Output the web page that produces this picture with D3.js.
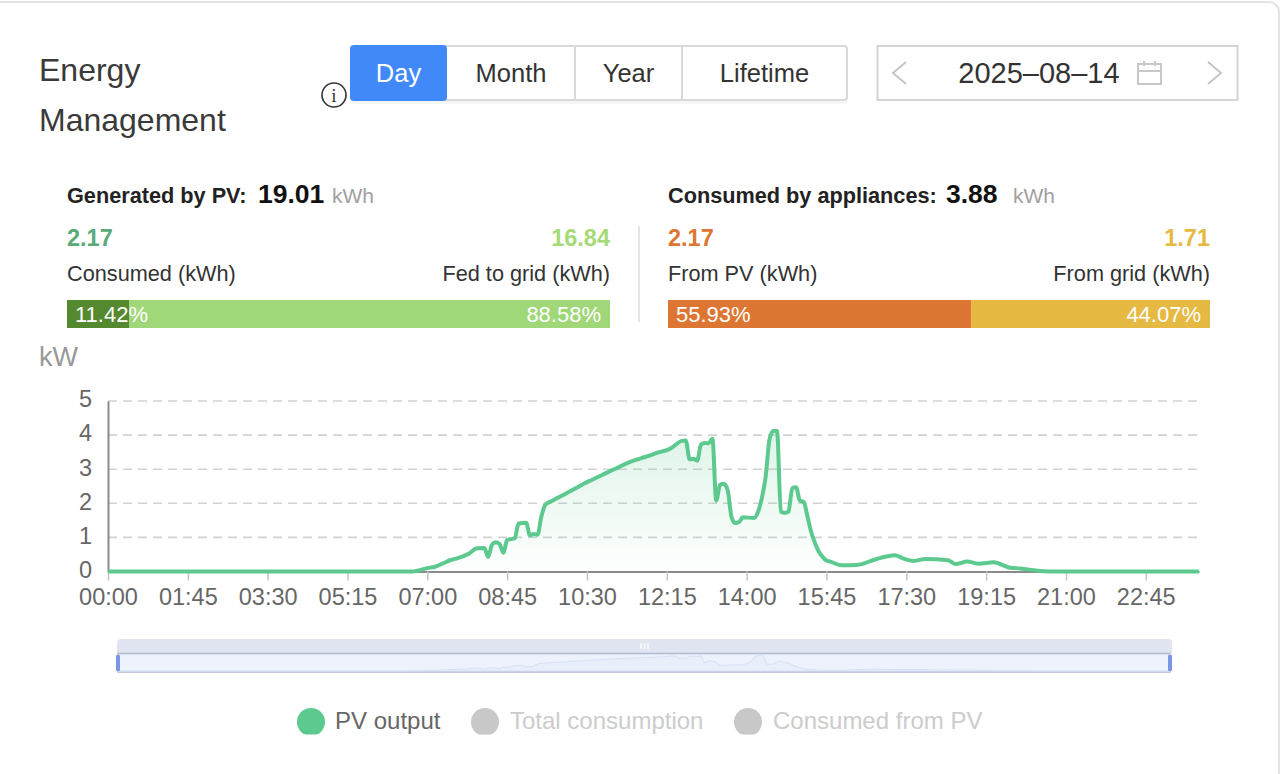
<!DOCTYPE html>
<html>
<head>
<meta charset="utf-8">
<title>Energy Management</title>
<script src="https://cdn.jsdelivr.net/npm/d3@7"></script>
<style>
  html, body { margin: 0; padding: 0; background: #fff; overflow: hidden; }
  svg { display: block; }
  text { font-family: "Liberation Sans", Arial, sans-serif; }
</style>
</head>
<body>
<div id="chart"></div>
<script>
// PV output samples (kW)
var sampleTimes = ["00:00","06:40","07:00","07:10","07:20","07:30","07:40","07:55","08:05","08:15","08:20","08:25","08:30","08:35","08:40","08:45","08:50","08:55","09:00","09:10","09:15","09:20","09:25","09:30","09:35","09:45","09:55","10:00","10:15","10:30","10:35","10:50","11:05","11:10","11:20","11:35","11:45","11:55","12:05","12:15","12:20","12:35","12:40","12:45","12:50","12:55","13:00","13:05","13:10","13:15","13:20","13:25","13:30","13:35","13:40","13:45","13:50","13:55","14:10","14:15","14:20","14:25","14:30","14:35","14:40","14:45","14:50","14:55","15:00","15:05","15:10","15:15","15:20","15:25","15:30","15:35","15:40","15:45","15:50","16:05","16:25","16:50","17:15","17:25","17:40","17:55","18:25","18:35","18:50","19:05","19:25","19:45","20:00","20:30","20:50","23:55"];
var pvOutput = [0,0,0.10,0.14,0.23,0.33,0.39,0.53,0.68,0.69,0.43,0.78,0.86,0.81,0.55,0.92,0.95,0.97,1.41,1.43,1.06,1.10,1.08,1.61,1.95,2.08,2.20,2.26,2.44,2.62,2.67,2.83,2.99,3.04,3.15,3.28,3.35,3.42,3.50,3.56,3.61,3.83,3.84,3.29,3.31,3.25,3.73,3.77,3.76,3.89,2.08,2.54,2.57,2.39,1.61,1.42,1.45,1.59,1.57,1.75,2.15,2.78,3.86,4.12,4.12,1.75,1.72,1.75,2.44,2.47,2.08,2.04,1.62,1.15,0.83,0.58,0.43,0.32,0.29,0.18,0.19,0.36,0.48,0.39,0.31,0.37,0.33,0.22,0.29,0.23,0.27,0.12,0.09,0.01,0,0];

var xTickLabels = ["00:00","01:45","03:30","05:15","07:00","08:45","10:30","12:15","14:00","15:45","17:30","19:15","21:00","22:45"];
var yTickValues = [0, 1, 2, 3, 4, 5];

var rangeButtons = ["Day", "Month", "Year", "Lifetime"];
var selectedDate = "2025\u201308\u201314";
var legendNames = ["PV output", "Total consumption", "Consumed from PV"];

var pvShares = [11.42, 88.58];
var loadShares = [55.93, 44.07];

function toMinutes(t) {
  var p = t.split(":");
  return +p[0] * 60 + +p[1];
}

function init() {
  var w = 1280;
  var h = 774;
  var green = "#5cc98e";

  var dataset = sampleTimes.map(function(t, i) {
    return { minute: toMinutes(t), value: pvOutput[i] };
  });

  var svg = d3.select("#chart")
    .append("svg")
    .attr("width", w)
    .attr("height", h);

  function label(x, y, str, size, color, anchor, weight) {
    return svg.append("text")
      .attr("x", x)
      .attr("y", y)
      .attr("font-size", size)
      .attr("fill", color)
      .attr("text-anchor", anchor || "start")
      .attr("font-weight", weight || "normal")
      .text(str);
  }

  // card edge along the top
  svg.append("rect")
    .attr("x", -20).attr("y", 2)
    .attr("width", 1299).attr("height", 800)
    .attr("rx", 10)
    .attr("fill", "#fff")
    .attr("stroke", "#e4e4e4")
    .attr("stroke-width", 2);

  // title
  label(39, 81, "Energy", 32, "#3a3a3a");
  label(39, 131, "Management", 32, "#3a3a3a");

  // info icon
  svg.append("circle")
    .attr("cx", 334).attr("cy", 95).attr("r", 12)
    .attr("fill", "#fff").attr("stroke", "#333").attr("stroke-width", 1.6);
  label(334, 102, "i", 19, "#333", "middle").style("font-family", "'Liberation Serif', serif");

  // Day / Month / Year / Lifetime buttons
  var buttonEdges = [350, 447, 575, 682, 847];
  svg.append("rect")
    .attr("x", 350).attr("y", 49)
    .attr("width", 498).attr("height", 55)
    .attr("rx", 4)
    .attr("fill", "#f5f6f8");
  svg.append("rect")
    .attr("x", 351).attr("y", 46)
    .attr("width", 496).attr("height", 54)
    .attr("rx", 3)
    .attr("fill", "#fff")
    .attr("stroke", "#d9d9d9")
    .attr("stroke-width", 2);
  svg.selectAll(".divider")
    .data(buttonEdges.slice(2, 4))
    .enter()
    .append("line")
    .attr("x1", d => d).attr("x2", d => d)
    .attr("y1", 46).attr("y2", 100)
    .attr("stroke", "#d9d9d9")
    .attr("stroke-width", 2);
  svg.append("rect")
    .attr("x", 350).attr("y", 45)
    .attr("width", 97).attr("height", 56)
    .attr("rx", 4)
    .attr("fill", "#4189f8");
  rangeButtons.forEach(function(name, i) {
    label((buttonEdges[i] + buttonEdges[i + 1]) / 2, 82, name, 25.5, i === 0 ? "#fff" : "#333", "middle");
  });

  // date picker
  svg.append("rect")
    .attr("x", 877.5).attr("y", 46)
    .attr("width", 360).attr("height", 54)
    .attr("fill", "#fff")
    .attr("stroke", "#d4d4d4")
    .attr("stroke-width", 2);
  svg.append("path").attr("d", "M906,62 L893,73 L906,84")
    .attr("fill", "none").attr("stroke", "#c4c4c4").attr("stroke-width", 2);
  svg.append("path").attr("d", "M1208,62 L1221,73 L1208,84")
    .attr("fill", "none").attr("stroke", "#c4c4c4").attr("stroke-width", 2);
  label(1039, 83, selectedDate, 29, "#333", "middle");
  svg.append("path")
    .attr("d", "M1138,64 H1161 V84 H1138 Z M1138,71 H1161 M1144,61 V66 M1155,61 V66")
    .attr("fill", "none").attr("stroke", "#c8c8c8").attr("stroke-width", 2);

  // summary blocks
  function summary(x0, x1, title, total, titleWidth, left, right, colors, shares) {
    label(x0, 203, title, 21.7, "#222", "start", "bold");
    label(x0 + titleWidth, 203, total, 26.5, "#111", "start", "bold");
    var unitX = x0 + titleWidth + (total.length > 4 ? 74 : 67);
    label(unitX, 203, "kWh", 21, "#a0a0a0");

    label(x0, 246, left.value, 23.5, colors[0], "start", "bold");
    label(x1, 246, right.value, 23.5, colors[1], "end", "bold");
    label(x0, 281, left.name, 21.7, "#333");
    label(x1, 281, right.name, 21.7, "#333", "end");

    var barScale = d3.scaleLinear().domain([0, 100]).range([x0, x1]);
    svg.append("rect")
      .attr("x", barScale(0)).attr("y", 300)
      .attr("width", barScale(shares[0]) - barScale(0)).attr("height", 28)
      .attr("fill", colors[2]);
    svg.append("rect")
      .attr("x", barScale(shares[0])).attr("y", 300)
      .attr("width", barScale(100) - barScale(shares[0])).attr("height", 28)
      .attr("fill", colors[3]);
    label(x0 + 8, 322, shares[0].toFixed(2) + "%", 22, "#fff");
    label(x1 - 9, 322, shares[1].toFixed(2) + "%", 22, "#fff", "end");
  }

  summary(67, 610, "Generated by PV:", "19.01", 191,
    { value: "2.17", name: "Consumed (kWh)" },
    { value: "16.84", name: "Fed to grid (kWh)" },
    ["#5aab78", "#a5da77", "#54892f", "#9fd779"], pvShares);

  summary(668, 1210, "Consumed by appliances:", "3.88", 278,
    { value: "2.17", name: "From PV (kWh)" },
    { value: "1.71", name: "From grid (kWh)" },
    ["#dd7633", "#e6b942", "#dd7633", "#e6b942"], loadShares);

  svg.append("line")
    .attr("x1", 639).attr("x2", 639)
    .attr("y1", 226).attr("y2", 322)
    .attr("stroke", "#dcdcdc")
    .attr("stroke-width", 1.5);

  // main chart
  var xScale = d3.scaleLinear().domain([0, 1435]).range([108, 1199]);
  var yScale = d3.scaleLinear().domain([0, 5]).range([571.5, 401]);

  label(39, 366, "kW", 27, "#999");

  svg.selectAll(".grid")
    .data(yTickValues.slice(1))
    .enter()
    .append("line")
    .attr("x1", 108).attr("x2", 1199)
    .attr("y1", d => yScale(d)).attr("y2", d => yScale(d))
    .attr("stroke", "#d2d2d2")
    .attr("stroke-width", 1.6)
    .attr("stroke-dasharray", "9 6");

  var xAxis = d3.axisBottom(xScale)
    .tickValues(xTickLabels.map(toMinutes))
    .tickFormat(function(d, i) { return xTickLabels[i]; })
    .tickSizeInner(9)
    .tickSizeOuter(0)
    .tickPadding(8);

  var yAxis = d3.axisLeft(yScale)
    .tickValues(yTickValues)
    .tickFormat(d3.format("d"))
    .tickSize(0)
    .tickPadding(16);

  var gx = svg.append("g")
    .attr("transform", "translate(0," + yScale(0) + ")")
    .call(xAxis);
  gx.select(".domain").attr("stroke", "#8a8a8a").attr("stroke-width", 2);
  gx.selectAll(".tick line").attr("stroke", "#c8c8c8").attr("stroke-width", 1.6);
  gx.selectAll("text").attr("font-size", 23.5).attr("fill", "#666").style("font-family", "'Liberation Sans', Arial, sans-serif");

  var gy = svg.append("g")
    .attr("transform", "translate(108,0)")
    .call(yAxis);
  gy.select(".domain").attr("stroke", "#8a8a8a").attr("stroke-width", 2);
  gy.selectAll("text").attr("font-size", 23.5).attr("fill", "#666").attr("dy", "0.25em").style("font-family", "'Liberation Sans', Arial, sans-serif");

  var defs = svg.append("defs");
  var grad = defs.append("linearGradient")
    .attr("id", "pvFill")
    .attr("x1", 0).attr("y1", 0).attr("x2", 0).attr("y2", 1);
  grad.append("stop").attr("offset", "0%").attr("stop-color", green).attr("stop-opacity", 0.2);
  grad.append("stop").attr("offset", "100%").attr("stop-color", green).attr("stop-opacity", 0.01);

  var area = d3.area()
    .x(d => xScale(d.minute))
    .y0(yScale(0))
    .y1(d => yScale(d.value))
    .curve(d3.curveMonotoneX);

  var line = d3.line()
    .x(d => xScale(d.minute))
    .y(d => yScale(d.value))
    .curve(d3.curveMonotoneX);

  svg.append("path")
    .datum(dataset)
    .attr("fill", "url(#pvFill)")
    .attr("d", area);

  svg.append("path")
    .datum(dataset)
    .attr("fill", "none")
    .attr("stroke", green)
    .attr("stroke-width", 4)
    .attr("stroke-linejoin", "round")
    .attr("d", line);

  // zoom slider under the chart
  var miniX = d3.scaleLinear().domain([0, 1435]).range([118, 1170]);
  var miniY = d3.scaleLinear().domain([0, 4.12]).range([671, 655]);

  svg.append("path")
    .attr("d", "M117,653 V643 Q117,639 121,639 H1168 Q1172,639 1172,643 V653 Z")
    .attr("fill", "#e1e5f1");
  svg.selectAll(".grip")
    .data([641, 644.5, 648])
    .enter()
    .append("line")
    .attr("x1", d => d).attr("x2", d => d)
    .attr("y1", 643).attr("y2", 649)
    .attr("stroke", "#fff")
    .attr("stroke-width", 1.2);
  svg.append("rect")
    .attr("x", 118).attr("y", 653.5)
    .attr("width", 1052).attr("height", 18.5)
    .attr("fill", "#eef2fd")
    .attr("stroke", "#b4bcd2")
    .attr("stroke-width", 1.6);
  svg.append("path")
    .datum(dataset)
    .attr("fill", "#e9eefb")
    .attr("stroke", "#d8e0f3")
    .attr("d", d3.area()
      .x(d => miniX(d.minute))
      .y0(miniY(0))
      .y1(d => miniY(d.value)));
  svg.selectAll(".handle")
    .data([118, 1170])
    .enter()
    .append("rect")
    .attr("x", d => d - 2).attr("y", 655)
    .attr("width", 4).attr("height", 16)
    .attr("rx", 1)
    .attr("fill", "#7b96e4");

  // legend
  var legendDots = [311, 485, 748];
  var legendText = [335, 510, 773];
  defs.append("clipPath").attr("id", "legendClip")
    .append("rect").attr("x", 280).attr("y", 700).attr("width", 500).attr("height", 34.5);

  svg.selectAll(".dot")
    .data(legendNames)
    .enter()
    .append("circle")
    .attr("clip-path", "url(#legendClip)")
    .attr("cx", (d, i) => legendDots[i])
    .attr("cy", 722)
    .attr("r", 14)
    .attr("fill", (d, i) => i === 0 ? green : "#c8c8c8");

  legendNames.forEach(function(name, i) {
    label(legendText[i], 729, name, 24, i === 0 ? "#666" : "#ccc");
  });
}

window.onload = init;
</script>
</body>
</html>
